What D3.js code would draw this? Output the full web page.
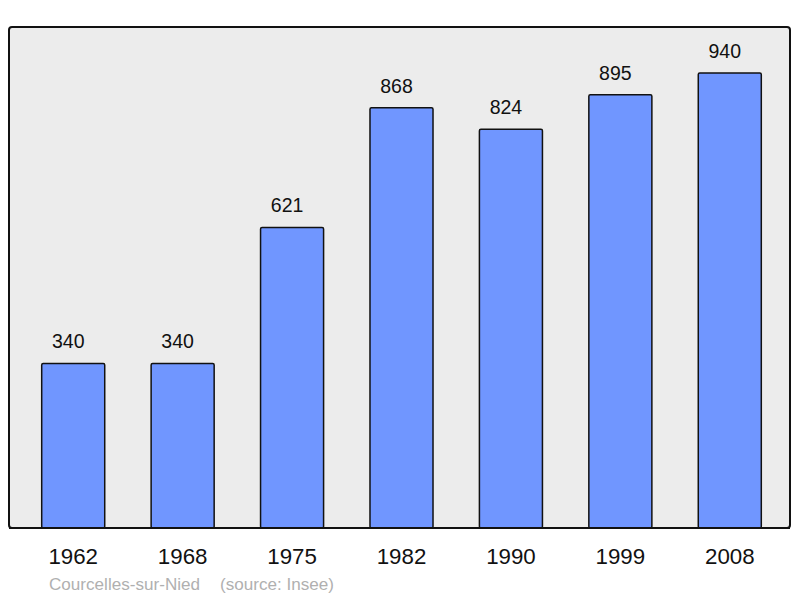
<!DOCTYPE html>
<html><head><meta charset="utf-8">
<script src="https://cdn.jsdelivr.net/npm/d3@7"></script>
<style>html,body{margin:0;padding:0;background:#fff;}svg{display:block;}</style>
</head><body>
<script>
const years = ["1962","1968","1975","1982","1990","1999","2008"];
const population = [340,340,621,868,824,895,940];
const commune = "Courcelles-sur-Nied";
const source = "(source: Insee)";

const W = 800, H = 598;
const svg = d3.select("body").append("svg").attr("width", W).attr("height", H);
const font = "'Liberation Sans', Arial, sans-serif";

svg.append("rect").attr("x", 9).attr("y", 27).attr("width", 781).attr("height", 501)
  .attr("rx", 3).attr("fill", "#ececec").attr("stroke", "#111").attr("stroke-width", 2);

const x = d3.scaleBand().domain(years).range([18.5, 784.5]).paddingInner(0.424).paddingOuter(0.212);
const y = d3.scaleLinear().domain([0, 1035]).range([528, 27]);

svg.selectAll("rect.bar").data(population).join("rect").attr("class","bar")
  .attr("x", (d,i) => x(years[i]))
  .attr("y", d => y(d))
  .attr("width", x.bandwidth())
  .attr("height", d => y(0) - y(d))
  .attr("rx", 1.5)
  .attr("fill", "#7096ff").attr("stroke", "#111").attr("stroke-width", 1.5);

svg.selectAll("text.val").data(population).join("text").attr("class","val")
  .attr("x", (d,i) => x(years[i]) + x.bandwidth()/2 - 5)
  .attr("y", d => y(d) - 15)
  .attr("text-anchor","middle").attr("font-family", font).attr("font-size", 19.5)
  .attr("fill","#111").text(d => d);

svg.append("line").attr("x1", 9).attr("x2", 790).attr("y1", 528).attr("y2", 528)
  .attr("stroke","#111").attr("stroke-width", 2);

const ax = svg.append("g").attr("transform","translate(0,528)")
  .call(d3.axisBottom(x).tickSize(0).tickPadding(0));
ax.select(".domain").remove();
ax.selectAll("text").attr("y", 36).attr("dy", null).attr("font-family", font).attr("font-size", 22.3).attr("fill","#111");

svg.append("text").attr("x", 49).attr("y", 590).attr("font-family", font).attr("font-size", 17.1)
  .attr("fill","#b0b0b0").text(commune);
svg.append("text").attr("x", 220).attr("y", 590).attr("font-family", font).attr("font-size", 17.1)
  .attr("fill","#b0b0b0").text(source);
</script>
</body></html>
